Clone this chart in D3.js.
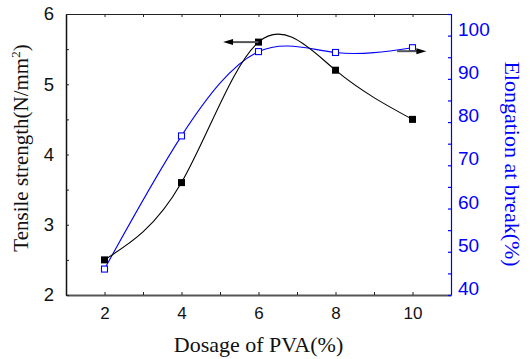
<!DOCTYPE html>
<html><head><meta charset="utf-8">
<script src="https://cdn.jsdelivr.net/npm/d3@7"></script>
<style>body{margin:0;background:#fff}svg{display:block}</style>
</head><body>
<svg id="c" width="530" height="359"></svg>
<script>
const dosage = [2, 4, 6, 8, 10];
const tensile = [2.5, 3.6, 5.6, 5.2, 4.5];
const elongation = [46, 76.8, 96.3, 96.1, 97.2];
const xTicks = [2, 4, 6, 8, 10];
const leftTicks = [2, 3, 4, 5, 6];
const rightTicks = [40, 50, 60, 70, 80, 90, 100];
const arrows = [
  {axis: "left", x0: 6, x1: 5.08, y: 5.6},
  {axis: "right", x0: 9.6, x1: 10.36, y: 96.4}
];

const svg = d3.select("#c");
const x = d3.scaleLinear().domain([1, 11]).range([66, 451]);
const yL = d3.scaleLinear().domain([2, 6]).range([295, 14]);
const yR = d3.scaleLinear().domain([40, 105]).range([295, 14]);
const blue = "#0000ff";

// top axis
svg.append("g").attr("transform", "translate(0,14)")
  .call(d3.axisTop(x).tickValues(d3.range(1, 12)).tickSize(-3).tickSizeOuter(0).tickFormat(""))
  .call(g => g.selectAll("path,line").attr("stroke", "#222").attr("stroke-width", 1));

// bottom axis
svg.append("g").attr("transform", "translate(0,295)")
  .call(d3.axisBottom(x).tickValues(d3.range(2, 11)).tickSize(-3).tickSizeOuter(0).tickPadding(12)
    .tickFormat(d => xTicks.includes(d) ? d : ""))
  .call(g => g.select("path").attr("stroke", "#555").attr("stroke-width", 2))
  .call(g => g.selectAll("line").attr("stroke", "#222"))
  .call(g => g.selectAll("text").attr("font-family", "Liberation Sans, Arial, sans-serif").attr("font-size", 17).attr("fill", "#111"));

// left axis
svg.append("g").attr("transform", "translate(66,0)")
  .call(d3.axisLeft(yL).tickValues(d3.range(2, 6.01, 0.5)).tickSize(-3).tickSizeOuter(0).tickPadding(12)
    .tickFormat(d => leftTicks.includes(d) ? d : ""))
  .call(g => g.select("path").attr("stroke", "#111").attr("stroke-width", 1.5))
  .call(g => g.selectAll("line").attr("stroke", "#222"))
  .call(g => g.selectAll("text").attr("font-family", "Liberation Sans, Arial, sans-serif").attr("font-size", 18.5).attr("fill", "#111"));

// right axis
svg.append("g").attr("transform", "translate(451,0)")
  .call(d3.axisRight(yR).tickValues(d3.range(40, 106, 5)).tickSize(-3).tickSizeOuter(0).tickPadding(7)
    .tickFormat(d => rightTicks.includes(d) ? d : ""))
  .call(g => g.selectAll("path,line").attr("stroke", blue).attr("stroke-width", 1.2))
  .call(g => g.selectAll("text").attr("font-family", "Liberation Sans, Arial, sans-serif").attr("font-size", 19).attr("fill", blue).attr("dy", "-0.02em"));

// lines
const lineL = d3.line().x((d, i) => x(dosage[i])).y(d => yL(d)).curve(d3.curveNatural);
const lineR = d3.line().x((d, i) => x(dosage[i])).y(d => yR(d)).curve(d3.curveNatural);
svg.append("path").attr("d", lineR(elongation)).attr("fill", "none").attr("stroke", blue).attr("stroke-width", 1.1);
svg.append("path").attr("d", lineL(tensile)).attr("fill", "none").attr("stroke", "#000").attr("stroke-width", 1.1);

// markers
svg.selectAll(".sq").data(tensile).enter().append("rect")
  .attr("x", (d, i) => x(dosage[i]) - 3.5).attr("y", d => yL(d) - 3.5)
  .attr("width", 7).attr("height", 7).attr("fill", "#000");
svg.selectAll(".osq").data(elongation).enter().append("rect")
  .attr("x", (d, i) => x(dosage[i]) - 3).attr("y", d => yR(d) - 3)
  .attr("width", 6).attr("height", 6).attr("fill", "#fff").attr("stroke", blue).attr("stroke-width", 1.1);

// arrows
arrows.forEach(a => {
  const ys = a.axis === "left" ? yL(a.y) : yR(a.y);
  const x0 = x(a.x0), x1 = x(a.x1);
  const dir = Math.sign(x1 - x0);
  svg.append("line").attr("x1", x0).attr("x2", x1 - dir * 6).attr("y1", ys).attr("y2", ys)
    .attr("stroke", "#555").attr("stroke-width", 2);
  svg.append("path").attr("d", `M${x1},${ys} L${x1 - dir * 10},${ys - 3} L${x1 - dir * 10},${ys + 3} Z`).attr("fill", "#000");
});

// titles
svg.append("text").attr("x", 258.5).attr("y", 351.5).attr("text-anchor", "middle")
  .attr("font-family", "Liberation Serif, Times New Roman, serif").attr("font-size", 22).attr("fill", "#111")
  .text("Dosage of PVA(%)");
const lt = svg.append("text").attr("transform", "translate(28,148) rotate(-90)").attr("text-anchor", "middle")
  .attr("font-family", "Liberation Serif, Times New Roman, serif").attr("font-size", 21).attr("fill", "#111");
lt.append("tspan").text("Tensile strength(N/mm");
lt.append("tspan").attr("font-size", 13).attr("dy", -8).text("2");
lt.append("tspan").attr("dy", 8).text(")");
svg.append("text").attr("transform", "translate(505,164) rotate(90)").attr("text-anchor", "middle")
  .attr("font-family", "Liberation Serif, Times New Roman, serif").attr("font-size", 22).attr("fill", blue)
  .text("Elongation at break(%)");
</script>
</body></html>
